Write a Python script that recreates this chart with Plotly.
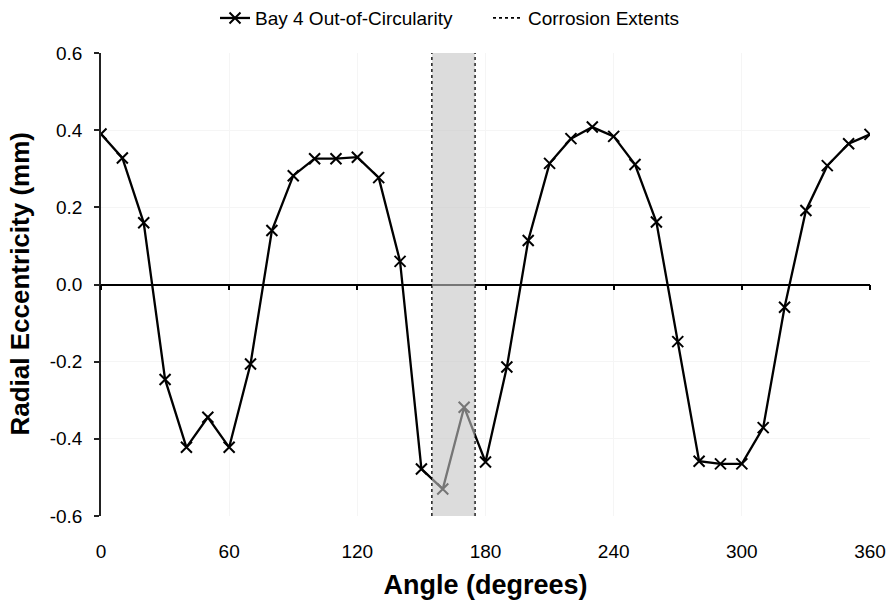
import plotly.graph_objects as go

# Measured radial eccentricity around the circumference of bay 4
angles = list(range(0, 361, 10))
eccentricity = [
    0.390, 0.328, 0.160, -0.246, -0.422, -0.344, -0.422, -0.206, 0.140, 0.282,
    0.326, 0.326, 0.330, 0.277, 0.060, -0.478, -0.530, -0.318, -0.460, -0.214,
    0.114, 0.314, 0.378, 0.408, 0.384, 0.311, 0.162, -0.148, -0.458, -0.465,
    -0.465, -0.371, -0.059, 0.192, 0.308, 0.365, 0.389,
]

# Angular extent of the corroded zone
corrosion_start = 155
corrosion_end = 175

x_ticks = [0, 60, 120, 180, 240, 300, 360]
y_ticks = [0.6, 0.4, 0.2, 0.0, -0.2, -0.4, -0.6]
y_tick_text = ["0.6", "0.4", "0.2", "0.0", "-0.2", "-0.4", "-0.6"]

FONT = "Liberation Sans, Arial, sans-serif"

fig = go.Figure()

fig.add_trace(go.Scatter(
    x=angles, y=eccentricity,
    mode="lines+markers",
    name="Bay 4 Out-of-Circularity",
    line=dict(color="black", width=2.3),
    marker=dict(symbol="x-thin", size=11, line=dict(color="black", width=2)),
))

fig.add_trace(go.Scatter(
    x=[corrosion_start, corrosion_start, None, corrosion_end, corrosion_end],
    y=[y_ticks[-1], y_ticks[0], None, y_ticks[-1], y_ticks[0]],
    mode="lines",
    name="Corrosion Extents",
    line=dict(color="black", width=1.8, dash="dot"),
    xaxis="x2",
))

# Shaded corroded band, drawn over the curve so the line dims inside it
fig.add_shape(
    type="rect", xref="x", yref="y",
    x0=corrosion_start, x1=corrosion_end, y0=y_ticks[-1], y1=y_ticks[0],
    fillcolor="rgb(197,197,197)", opacity=0.6, line_width=0, layer="above",
)

# Vertical axis title, set a little further out than the axis title standoff allows
fig.add_annotation(
    text="<b>Radial Eccentricity (mm)</b>", textangle=-90,
    xref="paper", x=-82 / 769, xanchor="center",
    yref="paper", y=0.5, yanchor="middle",
    showarrow=False, font=dict(size=26),
)

fig.update_layout(
    template="none",
    width=892, height=604,
    margin=dict(l=101, r=22, t=53, b=88, autoexpand=False),
    paper_bgcolor="white", plot_bgcolor="white",
    font=dict(family=FONT, color="black", size=19),
    showlegend=True,
    legend=dict(
        orientation="h", xref="container", x=215 / 892, xanchor="left",
        yref="container", y=0.97, yanchor="middle",
        font=dict(size=19), bgcolor="rgba(0,0,0,0)",
        entrywidth=228, entrywidthmode="pixels", itemwidth=30,
    ),
    xaxis=dict(
        range=[0, 360], tickvals=x_ticks, showline=False, ticks="",
        showgrid=True, gridcolor="#f5f5f5", gridwidth=1, zeroline=False,
        automargin=False, ticklabelstandoff=22,
        title=dict(text="<b>Angle (degrees)</b>", font=dict(size=27), standoff=14),
        tickfont=dict(size=19),
    ),
    xaxis2=dict(
        range=[0, 360], tickvals=x_ticks, overlaying="x", anchor="free",
        position=0.5, side="bottom", showline=True, linecolor="black",
        linewidth=1.6, ticks="outside", ticklen=5, tickcolor="black",
        tickwidth=1.5, showticklabels=False, showgrid=False, zeroline=False,
        automargin=False,
    ),
    yaxis=dict(
        range=[-0.6, 0.6], tickvals=y_ticks, ticktext=y_tick_text,
        showline=True, linecolor="#222", linewidth=1.5,
        ticks="outside", ticklen=5, tickcolor="#222", tickwidth=1.5,
        showgrid=True, gridcolor="#f5f5f5", gridwidth=1, zeroline=False,
        automargin=False, ticklabelstandoff=8,
        tickfont=dict(size=19),
    ),
)

fig.write_html("out.html")
